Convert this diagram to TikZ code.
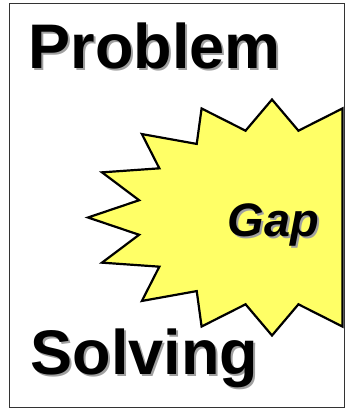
\documentclass[tikz,border=0pt]{standalone}
\usepackage{fontspec}
\setmainfont{Liberation Sans}
\usepackage{xcolor}
\usetikzlibrary{calc}
\definecolor{GapYellow}{RGB}{255,255,102}
\definecolor{ShadowGray}{RGB}{160,160,160}
\tikzset{
	bigword/.style={anchor=base west, inner sep=0pt, font=\fontsize{63}{63}\selectfont\bfseries},
	gapword/.style={anchor=base west, inner sep=0pt, font=\fontsize{47}{47}\selectfont\bfseries\itshape},
	gapstar/.style={draw=black, line width=2.2pt, fill=GapYellow, line join=miter}
}

\begin{document}
\begin{tikzpicture}[x=1pt, y=-1pt]
		\useasboundingbox (0,0) rectangle (346,408);
		\coordinate (C) at (272,217.5);
		\draw[line width=1pt, black!80] (9,3) rectangle (344,407);
		% star, cut at the right side of the frame
		\draw[gapstar] ({272+184*cos(67.5)},{217.5+118*sin(67.5)})
			\foreach \i [evaluate={\a=67.5+11.25*\i; \rx=(isodd(\i) ? 135.5 : 184); \ry=(isodd(\i) ? 88.5 : 118);}] in {1,...,20}
			{ -- ({272+\rx*cos(\a)},{217.5+\ry*sin(\a)}) } -- cycle;
		% words with their shadows
		\foreach \w/\x/\y in {Problem/28.5/68, Solving/30.5/374}
		{
			\node[bigword, ShadowGray] (\w-shadow) at (\x+2,\y+2) {\w};
			\node[bigword] (\w) at (\x,\y) {\w};
		}
		\node[gapword, ShadowGray] (gap-shadow) at (229.5,238) {Gap};
		\node[gapword] (gap) at (227.5,236) {Gap};
	\end{tikzpicture}
\end{document}
